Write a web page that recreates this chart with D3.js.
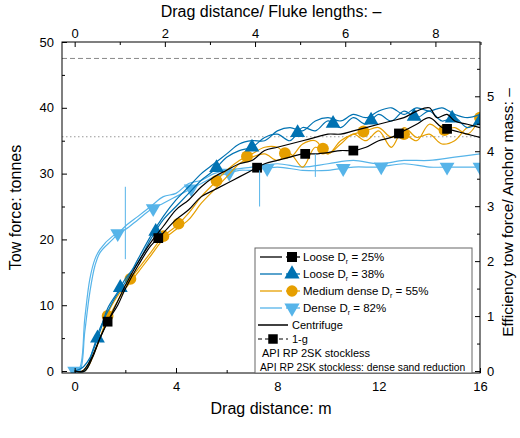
<!DOCTYPE html><html><head><meta charset="utf-8"><script src="https://cdn.jsdelivr.net/npm/d3@7"></script>
<style>body{margin:0;background:#fff}svg{font-family:"Liberation Sans",Arial,sans-serif}</style></head><body><svg id="c" width="520" height="438"></svg>
<script>
const loose25_1g=[[0,0],[0.3,0],[0.6,1.5],[1,5],[1.3,7.5],[1.7,10],[2,12.5],[2.5,16],[3,19],[3.5,21],[4,23],[4.5,24.5],[5,26.5],[5.5,27.5],[6,28.5],[6.5,29.5],[7,30.5],[7.5,31.5],[8,32],[8.5,32.5],[9,33],[9.5,33],[10,33.2],[10.5,33.5],[11,33.5],[11.5,34],[12,35],[12.5,35.5],[13,36.5],[13.5,37.5],[14,38.5],[14.5,37],[15,36.5],[15.5,36],[16,35.5]];
const loose25_1g_m=[1.3,3.3,7.2,9.1,11,12.8,14.7];
const loose25_cf=[[0,0],[0.4,0],[0.7,2],[1,5],[1.5,9],[2,13],[2.5,16.5],[3,19.5],[3.5,22],[4,24.5],[4.5,26],[5,28],[5.5,29.5],[6,30.5],[6.5,31.5],[7,32],[7.5,33.5],[8,34],[8.5,34.5],[9,35],[9.5,35.5],[10,36],[10.5,36],[11,36.5],[11.5,37],[12,37.5],[12.5,38],[13,38.5],[13.5,39.5],[14,40],[14.3,38.5],[14.7,39],[15,38],[15.5,37.5],[16,37]];
const loose38_1g=[[0,0],[0.3,0.5],[0.6,2],[1,6],[1.3,9.5],[1.7,12],[2,14],[2.5,16.5],[3,20],[3.5,23],[4,25],[4.5,27],[5,29],[5.5,30.5],[6,32.5],[6.5,33.5],[7,34],[7.5,35.5],[8,36],[8.5,35],[9,37],[9.5,36.5],[10,38],[10.5,37],[11,38.5],[11.5,37.5],[12,39],[12.5,38],[13,39.5],[13.5,38.5],[14,39.5],[14.5,38],[15,38.5],[15.5,37],[16,38]];
const loose38_1g_m=[0.9,1.8,3.2,5.6,7.0,8.8,10.2,11.7,13.4,14.9,16];
const loose38_cf=[[0,0],[0.4,0],[0.7,3],[1,6.5],[1.5,10.5],[2,13.5],[2.5,17],[3,20.5],[3.5,23.5],[4,26],[4.5,28],[5,30],[5.5,31.5],[6,33],[6.5,34.5],[7,35],[7.5,35],[8,36.5],[8.5,37],[9,36.5],[9.5,38],[10,38.5],[10.5,38],[11,39],[11.5,38.5],[12,39.5],[12.5,40],[13,39],[13.5,40],[14,39.5],[14.5,40],[15,39],[15.5,38.5],[16,39]];
const med55_1g=[[0,0],[0.3,0],[0.6,1.5],[1,5],[1.4,9.5],[1.8,12],[2,13],[2.5,15.5],[3,18],[3.5,20.5],[4,22],[4.5,24],[5,26.5],[5.5,28.5],[6,30.5],[6.5,32],[7,33],[7.5,34],[8,34],[8.5,32.5],[9,34.5],[9.5,35],[10,33],[10.5,35],[11,36],[11.5,36.5],[12,37],[12.5,35.5],[13,36],[13.5,35],[14,37.5],[14.5,36.5],[15,37],[15.5,36],[16,38.5]];
const med55_1g_m=[1.3,2.2,3.5,4.1,5.6,6.8,8.3,9.8,11.4,13,14.6,16];
const med55_cf=[[0,0],[0.4,0],[0.8,3],[1.2,7],[1.6,10],[2,12.5],[2.5,15],[3,17.5],[3.5,20],[4,21.5],[4.5,23],[5,25.5],[5.5,27.5],[6,29.5],[6.5,31.5],[7,32.5],[7.5,33],[8,32],[8.5,33],[9,31],[9.5,34],[10,33],[10.5,34.5],[11,36],[11.5,35],[12,36.5],[12.5,34],[13,37],[13.5,35.5],[14,36],[14.5,34.5],[15,35],[15.5,37],[16,37.5]];
const dense82_1g=[[0,0],[0.2,0.5],[0.4,8],[0.6,14],[0.8,17],[1,18.5],[1.5,20.5],[2,21.5],[2.5,23],[3,24.5],[3.5,25.5],[4,26.5],[4.5,27.5],[5,28.5],[5.5,29.5],[6,30],[6.5,30.5],[7,30.5],[8,31],[9,30.5],[10,30.5],[11,31],[12,31],[13,31.5],[14,31],[15,31],[16,31]];
const dense82_1g_m=[0,1.7,3.1,4.6,6.1,7.6,10.6,12.1,14.7,16];
const dense82_cf=[[0,0],[0.2,0],[0.4,6],[0.6,12],[0.8,16],[1,18],[1.5,20],[2,22],[2.5,23.5],[3,25],[3.5,26.5],[4,27],[4.5,28.5],[5,29],[5.5,30],[6,30.5],[7,31],[8,31.5],[9,31],[10,31.5],[11,32],[12,31.5],[13,32],[14,32],[15,32.5],[16,33]];
const legendLabels=["Loose D|r| = 25%","Loose D|r| = 38%","Medium dense D|r| = 55%","Dense D|r| = 82%","Centrifuge","1-g","API RP 2SK stockless","API RP 2SK stockless: dense sand reduction"];
const apiLine=47.5, apiDense=35.6, anchorMass=8.35, flukeLen=1.78;
const xTicks=[0,4,8,12,16], yTicks=[0,10,20,30,40,50], effTicks=[0,1,2,3,4,5], flukeTicks=[0,2,4,6,8];

const svg=d3.select("#c");
const L=62,R=480,T=42,B=373;
const x=d3.scaleLinear().domain([-0.5,16]).range([L,R]);
const y=d3.scaleLinear().domain([-0.3,50]).range([B,T]);
const yr=d3.scaleLinear().domain([-0.3/anchorMass,50/anchorMass]).range([B,T]);
const xt=d3.scaleLinear().domain([-0.5/flukeLen,16/flukeLen]).range([L,R]);
const g=svg.append("g");
const line=d3.line().x(d=>x(d[0])).y(d=>y(d[1])).curve(d3.curveCatmullRom);
function interp(arr,m){for(let i=1;i<arr.length;i++){if(arr[i][0]>=m){const a=arr[i-1],b=arr[i];const t=(m-a[0])/(b[0]-a[0]||1);return a[1]+t*(b[1]-a[1]);}}return arr[arr.length-1][1];}
g.append("line").attr("x1",L).attr("x2",R).attr("y1",y(apiLine)).attr("y2",y(apiLine)).attr("stroke","#888").attr("stroke-dasharray","5,3");
g.append("line").attr("x1",L).attr("x2",R).attr("y1",y(apiDense)).attr("y2",y(apiDense)).attr("stroke","#999").attr("stroke-dasharray","1.5,2.5");
const series=[
 {cf:dense82_cf,g1:dense82_1g,m:dense82_1g_m,c:"#56b4e9",s:d3.symbolTriangle,rot:180},
 {cf:med55_cf,g1:med55_1g,m:med55_1g_m,c:"#e69f00",s:d3.symbolCircle,rot:0},
 {cf:loose38_cf,g1:loose38_1g,m:loose38_1g_m,c:"#0072b2",s:d3.symbolTriangle,rot:0},
 {cf:loose25_cf,g1:loose25_1g,m:loose25_1g_m,c:"#000",s:d3.symbolSquare,rot:0}];
svg.append("clipPath").attr("id","cp").append("rect").attr("x",L).attr("y",T).attr("width",R-L).attr("height",B-T);
const pg=g.append("g").attr("clip-path","url(#cp)");
series.forEach(s=>{
 pg.append("path").attr("d",line(s.cf)).attr("fill","none").attr("stroke",s.c).attr("stroke-width",1.2);
 pg.append("path").attr("d",line(s.g1)).attr("fill","none").attr("stroke",s.c).attr("stroke-width",1.2);
 s.m.forEach(m=>pg.append("path").attr("d",d3.symbol(s.s,s.s===d3.symbolCircle?110:95)()).attr("fill",s.c)
  .attr("transform",`translate(${x(m)},${y(interp(s.g1,m))}) rotate(${s.rot})`));
});
[[2,17,28],[7.3,25,30.5],[9.5,29.5,33]].forEach(d=>pg.append("line").attr("x1",x(d[0])).attr("x2",x(d[0])).attr("y1",y(d[1])).attr("y2",y(d[2])).attr("stroke","#56b4e9"));
g.append("rect").attr("x",L).attr("y",T).attr("width",R-L).attr("height",B-T).attr("fill","none").attr("stroke","#000");
function styleAx(a){a.selectAll("text").attr("font-size",13).attr("font-family","Liberation Sans,Arial");a.select(".domain").remove();}
g.append("g").attr("transform",`translate(0,${B})`).call(d3.axisBottom(x).tickValues(xTicks).tickSize(-5).tickPadding(9)).call(styleAx);
g.append("g").attr("transform",`translate(0,${B})`).call(d3.axisBottom(x).tickValues([2,6,10,14]).tickSize(-3).tickFormat("")).call(styleAx);
g.append("g").attr("transform",`translate(${L},0)`).call(d3.axisLeft(y).tickValues(yTicks).tickSize(-5).tickPadding(8)).call(styleAx);
g.append("g").attr("transform",`translate(${L},0)`).call(d3.axisLeft(y).tickValues([5,15,25,35,45]).tickSize(-3).tickFormat("")).call(styleAx);
g.append("g").attr("transform",`translate(${R},0)`).call(d3.axisRight(yr).tickValues(effTicks).tickFormat(d3.format("d")).tickSize(-5).tickPadding(7)).call(styleAx);
g.append("g").attr("transform",`translate(${R},0)`).call(d3.axisRight(yr).tickValues([0.5,1.5,2.5,3.5,4.5,5.5]).tickSize(-3).tickFormat("")).call(styleAx);
g.append("g").attr("transform",`translate(0,${T})`).call(d3.axisTop(xt).tickValues(flukeTicks).tickSize(-5).tickPadding(4)).call(styleAx);
g.append("g").attr("transform",`translate(0,${T})`).call(d3.axisTop(xt).tickValues([1,3,5,7,9]).tickSize(-3).tickFormat("")).call(styleAx);
svg.append("text").attr("x",(L+R)/2).attr("y",414).attr("text-anchor","middle").attr("font-size",16).text("Drag distance: m");
svg.append("text").attr("x",(L+R)/2).attr("y",17).attr("text-anchor","middle").attr("font-size",16).text("Drag distance/ Fluke lengths: –");
svg.append("text").attr("transform",`translate(21,${(T+B)/2}) rotate(-90)`).attr("text-anchor","middle").attr("font-size",16).text("Tow force: tonnes");
svg.append("text").attr("transform",`translate(513,${(T+B)/2+5}) rotate(-90)`).attr("text-anchor","middle").attr("font-size",15.5).text("Efficiency tow force/ Anchor mass: –");
// legend
const lg=svg.append("g");
lg.append("rect").attr("x",255).attr("y",248).attr("width",217).attr("height",125).attr("fill","#fff").attr("stroke","#666");
const ly=i=>[257,274,291,308,325,339,353,367][i];
const legC=["#000","#0072b2","#e69f00","#56b4e9"],legS=[d3.symbolSquare,d3.symbolTriangle,d3.symbolCircle,d3.symbolTriangle];
legendLabels.forEach((lab,i)=>{
 const yy=ly(i);
 if(i<4){lg.append("line").attr("x1",260).attr("x2",282).attr("y1",yy).attr("y2",yy).attr("stroke",legC[i]).attr("stroke-width",1.3);
  lg.append("line").attr("x1",286).attr("x2",300).attr("y1",yy).attr("y2",yy).attr("stroke",legC[i]).attr("stroke-width",1.3);
  lg.append("path").attr("d",d3.symbol(legS[i],100)()).attr("fill",legC[i]).attr("transform",`translate(292,${yy}) rotate(${i==3?180:0})`);}
 const parts=lab.split("|");
 const t=lg.append("text").attr("x",i<4?303:i<6?262+36:258+36).attr("y",yy+4).attr("font-size",i<4?11.5:11);
 if(i>=6) t.attr("x",i===6?260+36:0);
 if(parts.length===3){t.append("tspan").text(parts[0]);t.append("tspan").attr("font-size",7).attr("dy",3).text(parts[1]);t.append("tspan").attr("dy",-3).text(parts[2]);}
 else t.text(lab);
});
// lower entries: samples are short, placed left of text
lg.selectAll("text").filter((d,i)=>i>=4).attr("x",function(d,i){return 292;});
lg.selectAll("text").filter((d,i)=>i===7).attr("font-size",10.3).attr("x",260);
lg.selectAll("text").filter((d,i)=>i===6).attr("x",262);
lg.append("line").attr("x1",258).attr("x2",288).attr("y1",ly(4)).attr("y2",ly(4)).attr("stroke","#000").attr("stroke-width",1.5);
lg.append("line").attr("x1",258).attr("x2",288).attr("y1",ly(5)).attr("y2",ly(5)).attr("stroke","#000").attr("stroke-dasharray","4,3");
lg.append("path").attr("d",d3.symbol(d3.symbolSquare,90)()).attr("fill","#000").attr("transform",`translate(273,${ly(5)})`);
</script></body></html>
